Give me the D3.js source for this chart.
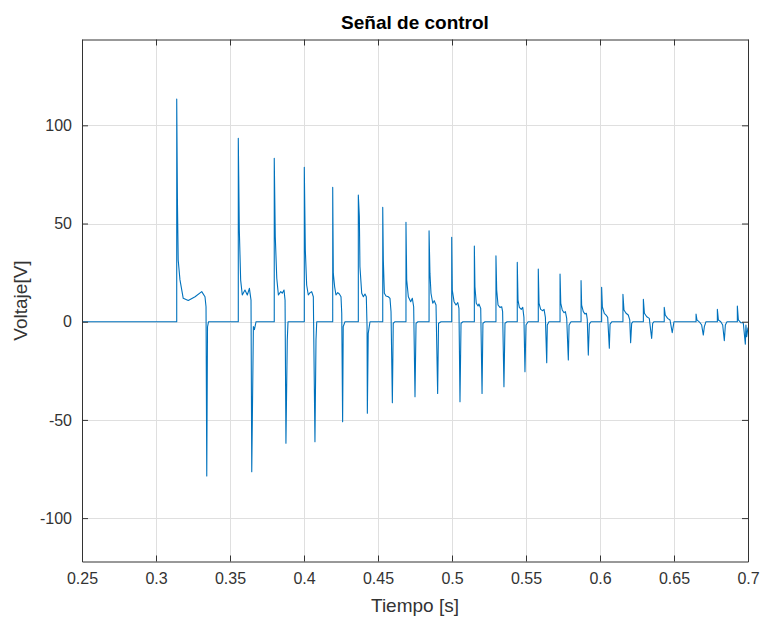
<!DOCTYPE html>
<html>
<head>
<meta charset="utf-8">
<script src="https://cdn.jsdelivr.net/npm/d3@7"></script>
<style>
  html, body { margin: 0; padding: 0; background: #ffffff; }
  svg { display: block; font-family: "Liberation Sans", Arial, Helvetica, sans-serif; }
</style>
</head>
<body>
<svg id="chart" width="763" height="622"></svg>
<script>
// ---- Data ----
const title = "Señal de control";
const xLabel = "Tiempo [s]";
const yLabel = "Voltaje[V]";
const xDomain = [0.25, 0.7];
const yDomain = [-122.1, 143.7];
const xTicks = [0.25, 0.3, 0.35, 0.4, 0.45, 0.5, 0.55, 0.6, 0.65, 0.7];
const xTickLabels = ["0.25", "0.3", "0.35", "0.4", "0.45", "0.5", "0.55", "0.6", "0.65", "0.7"];
const yTicks = [-100, -50, 0, 50, 100];
const yTickLabels = ["-100", "-50", "0", "50", "100"];

const time = [
  0.2500, 0.3140, 0.3140, 0.3145, 0.3150, 0.3162, 0.3184, 0.3218, 0.3264, 0.3309, 0.3331, 0.3338, 0.3343, 0.3348, 0.3355,
  0.3556, 0.3556, 0.3559, 0.3563, 0.3572, 0.3583, 0.3601, 0.3617, 0.3631, 0.3642, 0.3647, 0.3658, 0.3665, 0.3676,
  0.3799, 0.3799, 0.3806, 0.3816, 0.3827, 0.3843, 0.3853, 0.3865, 0.3872, 0.3878, 0.3887, 0.3892,
  0.4002, 0.4002, 0.4009, 0.4018, 0.4029, 0.4041, 0.4052, 0.4063, 0.4074, 0.4081, 0.4086,
  0.4194, 0.4194, 0.4198, 0.4207, 0.4216, 0.4228, 0.4239, 0.4250, 0.4255, 0.4261, 0.4265, 0.4277,
  0.4367, 0.4367, 0.4374, 0.4378, 0.4390, 0.4401, 0.4412, 0.4421, 0.4426, 0.4428, 0.4434, 0.4446,
  0.4532, 0.4532, 0.4536, 0.4543, 0.4554, 0.4570, 0.4581, 0.4588, 0.4597, 0.4603, 0.4615,
  0.4689, 0.4689, 0.4694, 0.4705, 0.4721, 0.4732, 0.4741, 0.4750, 0.4757, 0.4770,
  0.4845, 0.4845, 0.4851, 0.4858, 0.4870, 0.4880, 0.4892, 0.4903, 0.4909, 0.4926,
  0.4998, 0.4998, 0.5002, 0.5014, 0.5027, 0.5039, 0.5047, 0.5054, 0.5061, 0.5074,
  0.5151, 0.5151, 0.5155, 0.5164, 0.5176, 0.5182, 0.5194, 0.5203, 0.5209, 0.5223,
  0.5297, 0.5297, 0.5302, 0.5311, 0.5324, 0.5336, 0.5342, 0.5351, 0.5358, 0.5372,
  0.5441, 0.5441, 0.5446, 0.5455, 0.5468, 0.5478, 0.5486, 0.5493, 0.5500, 0.5514,
  0.5583, 0.5583, 0.5588, 0.5599, 0.5613, 0.5622, 0.5631, 0.5640, 0.5644, 0.5655,
  0.5730, 0.5730, 0.5735, 0.5745, 0.5757, 0.5766, 0.5775, 0.5786, 0.5791, 0.5804,
  0.5872, 0.5872, 0.5876, 0.5887, 0.5899, 0.5908, 0.5914, 0.5921, 0.5928, 0.5939,
  0.6011, 0.6011, 0.6016, 0.6029, 0.6041, 0.6052, 0.6063, 0.6068, 0.6081,
  0.6155, 0.6155, 0.6162, 0.6176, 0.6191, 0.6201, 0.6207, 0.6214, 0.6223,
  0.6293, 0.6293, 0.6300, 0.6316, 0.6333, 0.6349, 0.6356, 0.6365,
  0.6434, 0.6434, 0.6441, 0.6457, 0.6473, 0.6488, 0.6500,
  0.6649, 0.6649, 0.6655, 0.6676, 0.6687, 0.6698, 0.6705, 0.6716,
  0.6793, 0.6793, 0.6800, 0.6816, 0.6829, 0.6840, 0.6847, 0.6858,
  0.6928, 0.6928, 0.6935, 0.6951, 0.6968, 0.6982, 0.6986, 0.6991, 0.7000
];

const voltage = [
  0, 0, 113.4, 60.4, 31.4, 21.3, 11.9, 10.8, 12.7, 15.3, 12.7, 7.6, -78.6, -2.7, 0,
  0, 93.4, 73.8, 46.7, 21.2, 13.6, 16.1, 13.6, 17.0, 11.0, -76.4, -2.5, -4.0, 0,
  0, 83.2, 43.3, 22.1, 13.6, 15.3, 14.5, 16.1, 11.0, -61.9, -9.3, 0,
  0, 78.6, 36.5, 18.7, 13.6, 14.8, 15.3, 12.7, -61.1, -9.3, 0,
  0, 68.4, 24.6, 17.8, 13.6, 14.8, 14.1, 12.7, 4.3, -50.9, -2.5, 0,
  0, 64.5, 53.5, 28.0, 14.5, 12.7, 14.1, 12.7, -2.5, -46.6, -5.9, 0,
  0, 58.2, 31.4, 14.5, 13.1, 12.7, 11.9, 5.1, -41.2, -0.8, 0,
  0, 50.6, 21.2, 12.7, 10.2, 11.9, 7.6, -38.2, -0.8, 0,
  0, 46.3, 24.6, 14.5, 9.4, 10.7, 8.5, -36.5, -0.8, 0,
  0, 43.0, 16.1, 10.2, 8.5, 9.7, 6.8, -40.7, -0.8, 0,
  0, 38.5, 17.8, 9.4, 8.0, 9.0, 6.8, -36.5, -0.8, 0,
  0, 33.5, 16.1, 8.5, 7.3, 7.6, 5.1, -33.1, -0.8, 0,
  0, 30.2, 11.0, 7.3, 6.3, 7.3, 2.2, -25.5, -1.7, 0,
  0, 26.8, 9.4, 6.3, 5.6, 6.3, 2.2, -20.9, -1.7, 0,
  0, 24.3, 9.4, 6.0, 4.6, 5.1, 1.7, -19.5, -1.7, 0,
  0, 20.9, 8.5, 5.1, 3.9, 4.3, 1.2, -17.0, -1.2, 0,
  0, 17.5, 7.6, 4.3, 3.4, 2.2, -13.5, -1.2, 0,
  0, 14.0, 6.0, 4.3, 3.4, 0.9, -10.7, -0.8, 0,
  0, 11.4, 4.3, 2.5, 1.7, -8.5, -0.8, 0,
  0, 7.3, 3.4, 1.7, 0.9, -5.6, 0,
  0, 3.9, 0.9, -0.5, -1.7, -6.8, -2.5, 0,
  0, 6.3, 0.9, 0, -1.7, -9.7, -1.7, 0,
  0, 8.0, 0.9, -0.5, -0.5, -11.4, -1.7, -7.6, -3.0
];

// ---- Layout ----
const W = 763, H = 622;
const plot = { left: 82, top: 39.5, right: 748, bottom: 561.5 };
const axisColor = "#333333";
const gridColor = "#dfdfdf";
const lineColor = "#0072bd";
const tickLen = 6;

const svg = d3.select("#chart");
svg.append("rect").attr("width", W).attr("height", H).attr("fill", "#ffffff");

const x = d3.scaleLinear().domain(xDomain).range([plot.left, plot.right]);
const y = d3.scaleLinear().domain(yDomain).range([plot.bottom, plot.top]);

// Grid
const grid = svg.append("g");
grid.selectAll("line.gx").data(xTicks).join("line")
  .attr("x1", d => Math.round(x(d)) + 0.5).attr("x2", d => Math.round(x(d)) + 0.5)
  .attr("y1", plot.top).attr("y2", plot.bottom)
  .attr("stroke", gridColor).attr("stroke-width", 1);
grid.selectAll("line.gy").data(yTicks).join("line")
  .attr("y1", d => Math.round(y(d)) + 0.5).attr("y2", d => Math.round(y(d)) + 0.5)
  .attr("x1", plot.left).attr("x2", plot.right)
  .attr("stroke", gridColor).attr("stroke-width", 1);

// Data line
svg.append("clipPath").attr("id", "clip").append("rect")
  .attr("x", plot.left).attr("y", plot.top)
  .attr("width", plot.right - plot.left).attr("height", plot.bottom - plot.top);

const pts = time.map((t, i) => [t, voltage[i]]);
const line = d3.line().x(d => x(d[0])).y(d => y(d[1]));
svg.append("path")
  .attr("clip-path", "url(#clip)")
  .attr("d", line(pts))
  .attr("fill", "none")
  .attr("stroke", lineColor)
  .attr("stroke-width", 1.1)
  .attr("stroke-linejoin", "round");

// Axes (inward ticks, box)
const bottomAxis = d3.axisBottom(x).tickValues(xTicks).tickSizeInner(-tickLen).tickSizeOuter(0).tickPadding(11)
  .tickFormat((d, i) => xTickLabels[i]);
const topAxis = d3.axisTop(x).tickValues(xTicks).tickSizeInner(-tickLen).tickSizeOuter(0).tickFormat("");
const leftAxis = d3.axisLeft(y).tickValues(yTicks).tickSizeInner(-tickLen).tickSizeOuter(0).tickPadding(10)
  .tickFormat((d, i) => yTickLabels[i]);
const rightAxis = d3.axisRight(y).tickValues(yTicks).tickSizeInner(-tickLen).tickSizeOuter(0).tickFormat("");

function style(g) {
  g.select(".domain").attr("stroke", axisColor).attr("stroke-width", 1);
  g.selectAll(".tick line").attr("stroke", axisColor);
  g.selectAll(".tick text").attr("fill", axisColor).style("font-size", "16px")
    .style("font-family", "'Liberation Sans', Arial, Helvetica, sans-serif");
}
svg.append("g").attr("transform", `translate(0,${plot.bottom})`).call(bottomAxis).call(style);
svg.append("g").attr("transform", `translate(0,${plot.top})`).call(topAxis).call(style);
svg.append("g").attr("transform", `translate(${plot.left},0)`).call(leftAxis).call(style);
svg.append("g").attr("transform", `translate(${plot.right},0)`).call(rightAxis).call(style);

// Title and labels
const cx = (plot.left + plot.right) / 2;
svg.append("text").attr("x", cx).attr("y", 29)
  .attr("text-anchor", "middle").attr("fill", "#000000")
  .style("font-size", "19px").style("font-weight", "bold")
  .text(title);
svg.append("text").attr("x", cx).attr("y", 612)
  .attr("text-anchor", "middle").attr("fill", axisColor)
  .style("font-size", "19px")
  .text(xLabel);
svg.append("text")
  .attr("transform", `translate(27,${(plot.top + plot.bottom) / 2}) rotate(-90)`)
  .attr("text-anchor", "middle").attr("fill", axisColor)
  .style("font-size", "19px")
  .text(yLabel);
</script>
</body>
</html>
